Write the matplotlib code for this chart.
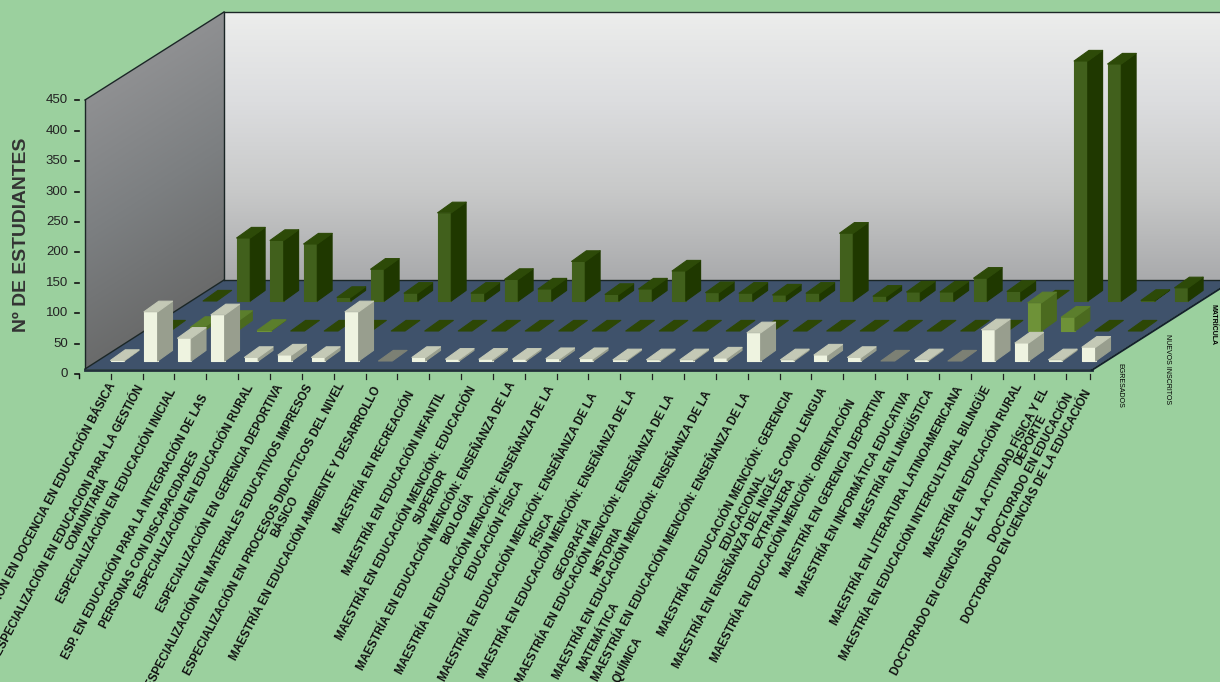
import matplotlib
matplotlib.use("Agg")
import matplotlib.pyplot as plt
import numpy as np
from matplotlib.colors import LinearSegmentedColormap
from matplotlib.patches import Polygon

plt.rcParams["font.family"] = ["Liberation Sans", "DejaVu Sans"]

labels = [
    "ESPECIALIZACIÓN EN DOCENCIA EN EDUCACIÓN BÁSICA",
    "ESPECIALIZACIÓN EN EDUCACION PARA LA GESTIÓN\nCOMUNITARIA",
    "ESPECIALIZACIÓN EN EDUCACIÓN INICIAL",
    "ESP. EN EDUCACIÓN PARA LA INTEGRACIÓN DE LAS\nPERSONAS CON DISCAPACIDADES",
    "ESPECIALIZACIÓN EN EDUCACIÓN RURAL",
    "ESPECIALIZACIÓN EN GERENCIA DEPORTIVA",
    "ESPECIALIZACIÓN EN MATERIALES EDUCATIVOS IMPRESOS",
    "ESPECIALIZACIÓN EN PROCESOS DIDACTICOS DEL NIVEL\nBÁSICO",
    "MAESTRÍA EN EDUCACIÓN AMBIENTE Y DESARROLLO",
    "MAESTRÍA EN RECREACIÓN",
    "MAESTRÍA EN EDUCACIÓN INFANTIL",
    "MAESTRÍA EN EDUCACIÓN MENCIÓN: EDUCACIÓN\nSUPERIOR",
    "MAESTRÍA EN EDUCACIÓN MENCIÓN: ENSEÑANZA DE LA\nBIOLOGÍA",
    "MAESTRÍA EN EDUCACIÓN MENCIÓN: ENSEÑANZA DE LA\nEDUCACIÓN FÍSICA",
    "MAESTRÍA EN EDUCACIÓN MENCIÓN: ENSEÑANZA DE LA\nFÍSICA",
    "MAESTRÍA EN EDUCACIÓN MENCIÓN: ENSEÑANZA DE LA\nGEOGRAFÍA",
    "MAESTRÍA EN EDUCACIÓN MENCIÓN: ENSEÑANZA DE LA\nHISTORIA",
    "MAESTRÍA EN EDUCACIÓN MENCIÓN: ENSEÑANZA DE LA\nMATEMÁTICA",
    "MAESTRÍA EN EDUCACIÓN MENCIÓN: ENSEÑANZA DE LA\nQUÍMICA",
    "MAESTRÍA EN EDUCACIÓN MENCIÓN: GERENCIA\nEDUCACIONAL",
    "MAESTRÍA EN ENSEÑANZA DEL INGLÉS COMO LENGUA\nEXTRANJERA",
    "MAESTRÍA EN EDUCACIÓN MENCIÓN: ORIENTACIÓN",
    "MAESTRÍA EN GERENCIA DEPORTIVA",
    "MAESTRÍA EN INFORMÁTICA EDUCATIVA",
    "MAESTRÍA EN LINGÜÍSTICA",
    "MAESTRÍA EN LITERATURA LATINOAMERICANA",
    "MAESTRÍA EN EDUCACIÓN INTERCULTURAL BILINGÜE",
    "MAESTRÍA EN EDUCACIÓN RURAL",
    "DOCTORADO EN CIENCIAS DE LA ACTIVIDAD FÍSICA Y EL\nDEPORTE",
    "DOCTORADO EN EDUCACIÓN",
    "DOCTORADO EN CIENCIAS DE LA EDUCACIÓN",
]

# where each rotated label ends, in pixels
label_end_x = [108, 136, 168, 200, 246, 275, 305, 337, 373, 407, 438, 468, 508, 547, 590, 629,
               667, 704, 743, 786, 819, 848, 878, 903, 926, 955, 983, 1015, 1041, 1066, 1083]
label_end_y = [381, 383, 387, 393, 383, 383, 382, 381, 385, 389, 390, 384, 380, 384, 391, 388,
               393, 389, 391, 388, 386, 398, 387, 389, 387, 384, 384, 382, 386, 391, 388]
# centres of the second lines, in pixels
second_line_xy = {1: (87.5, 514), 3: (150, 540), 7: (285, 517), 11: (431, 497), 12: (458, 518),
                  13: (495, 531), 14: (542, 530), 15: (573, 549), 16: (607, 552), 17: (599, 637),
                  18: (627, 660), 19: (744, 512), 20: (775, 513), 28: (1031, 440)}

egresados = [1, 82, 38, 77, 6, 10, 6, 82, 0, 6, 3, 3, 3, 4, 4,
             2, 2, 2, 5, 47, 2, 10, 6, 0, 2, 0, 52, 30, 2, 23]
nuevos = [0, 6, 16, 1, 0, 0, 0, 0, 0, 0, 0, 0, 0, 0, 0,
          0, 0, 0, 0, 0, 0, 0, 0, 0, 0, 0, 47, 23, 0, 0]
matricula = [0, 105, 101, 95, 6, 53, 13, 147, 13, 36, 20, 66, 11, 20, 50,
             14, 13, 10, 13, 113, 8, 15, 15, 38, 16, 0, 400, 395, 1, 22]

y_ticks = [0, 50, 100, 150, 200, 250, 300, 350, 400, 450]

# (values, front, side, top, colour of a zero bar), back row first
series = [
    (matricula, "#41601c", "#1f3800", "#2d4a08", "#2d4705"),
    (nuevos, "#6e9238", "#4b6a1f", "#5b7e2c", "#2d4705"),
    (egresados, "#eef3e0", "#989e8e", "#c4c9b6", "#7c8074"),
]
series_names = ["EGRESADOS", "NUEVOS INSCRITOS", "MATRÍCULA"]
name_x = [1120, 1168, 1213]
name_y = [385, 369, 325]

BG = "#9bd09e"
W, H = 1220, 682

fig = plt.figure(figsize=(W / 100, H / 100), dpi=100, facecolor=BG)

# frame, drawn in pixels
frame = fig.add_axes([0, 0, 1, 1])
frame.set_xlim(0, W)
frame.set_ylim(H, 0)
frame.axis("off")

FL, FR, BL, BR = (85, 369), (1092, 369), (224, 280), (1232, 280)
TOP_F, TOP_B, TOP_R = (85, 100), (224, 12), (1232, 12)


def gradient_fill(poly, img, cmap, extent):
    im = frame.imshow(img, cmap=cmap, extent=extent, aspect="auto", vmin=0, vmax=1, zorder=1)
    patch = Polygon(poly, transform=frame.transData, fc="none", ec="none")
    frame.add_patch(patch)
    im.set_clip_path(patch)


wall_cmap = LinearSegmentedColormap.from_list("wall", ["#ecedec", "#dcdddf", "#c8c9c9", "#a9aaac"])
side_cmap = LinearSegmentedColormap.from_list("side", ["#8f9092", "#7c7f81", "#6a6b6b"])
gradient_fill([TOP_B, TOP_R, BR, BL], np.linspace(0, 1, 256).reshape(-1, 1), wall_cmap, (224, 1232, 280, 12))
xx, yy = np.meshgrid(np.linspace(85, 224, 140), np.linspace(12, 369, 358))
shade = (yy - (100 - 0.633 * (xx - 85))) / 269
gradient_fill([TOP_F, TOP_B, BL, FL], shade.clip(0, 1), side_cmap, (85, 224, 369, 12))
frame.set_xlim(0, W)
frame.set_ylim(H, 0)

frame.add_patch(Polygon([FL, FR, BR, BL], fc="#3f526b", ec="none", zorder=2))
edge = "#1b2626"
for a, b in [(TOP_F, TOP_B), (TOP_B, TOP_R), (TOP_B, BL), (TOP_F, FL), (FL, BL), (BL, BR)]:
    frame.plot([a[0], b[0]], [a[1], b[1]], color=edge, lw=1, zorder=3)
frame.plot([FL[0], FR[0]], [370, 370], color="#22303c", lw=2, zorder=3)
frame.plot([FR[0], BR[0]], [370, 281], color="#14202c", lw=1.4, zorder=3)

# value axis, labels and ticks
for v in y_ticks:
    y = 374 - v * 0.608
    frame.plot([75, 79], [y, y], color="#111111", lw=1.2, zorder=3)
    frame.text(68, y, str(v), ha="right", va="center", fontsize=9.5, color="#222222")
frame.plot([79, 79], [374, 378], color="#111111", lw=1, zorder=3)
frame.text(22, 235, "Nº DE ESTUDIANTES", rotation=90, ha="center", va="center",
           fontsize=13.9, fontweight="bold", color="#333333")

# category axis
tick_x = [110.7 + 31.85 * k for k in range(31)] + [1090]
for x in tick_x:
    frame.plot([x, x], [374, 379], color="#222222", lw=0.9, zorder=3)
for i, (lab, x, y) in enumerate(zip(labels, label_end_x, label_end_y)):
    parts = lab.split("\n")
    frame.text(x, y, parts[0], rotation=62, rotation_mode="anchor", ha="right", va="top",
               fontsize=8.3, fontweight="bold", color="#111111", clip_on=True)
    if len(parts) > 1:
        cx, cy = second_line_xy[i]
        frame.text(cx, cy, parts[1], rotation=62, rotation_mode="anchor", ha="center", va="center",
                   fontsize=8.3, fontweight="bold", color="#111111", clip_on=True)
for name, x, y in zip(series_names, name_x, name_y):
    frame.text(x, y, name, rotation=-90, ha="center", va="center", fontsize=5,
               fontweight="bold" if name == "MATRÍCULA" else "normal", color="#000000")

# bars: x is category, y is value, depth is slanted across both
bars = fig.add_axes([0, 0, 1, 1], facecolor="none")
PX_X, PX_Y = 33.5, 0.6
bars.set_xlim(-110.5 / PX_X, (W - 110.5) / PX_X)
bars.set_ylim((361 - H) / PX_Y, 361 / PX_Y)
bars.axis("off")

ROW_DX, ROW_DY = 46.3 / PX_X, 30 / PX_Y
WIDTH = 13.7 / PX_X
DEPTH_DX, DEPTH_DY = 14.8 / PX_X, 10.6 / PX_Y

for row, (values, c_front, c_side, c_top, c_zero) in zip([2, 1, 0], series):
    for i, v in enumerate(values):
        x0 = i + row * ROW_DX
        y0 = row * ROW_DY
        x1 = x0 + WIDTH
        z = row * -10
        if v > 0:
            bars.fill([x0, x1, x1, x0], [y0, y0, y0 + v, y0 + v], color=c_front, lw=0.8, joinstyle="round", zorder=z)
            bars.fill([x1, x1 + DEPTH_DX, x1 + DEPTH_DX, x1],
                      [y0, y0 + DEPTH_DY, y0 + DEPTH_DY + v, y0 + v], color=c_side, lw=0.8, joinstyle="round", zorder=z)
        top = c_top if v > 0 else c_zero
        bars.fill([x0, x1, x1 + DEPTH_DX, x0 + DEPTH_DX],
                  [y0 + v, y0 + v, y0 + DEPTH_DY + v, y0 + DEPTH_DY + v], color=top, lw=0.8, joinstyle="round", zorder=z)

fig.savefig("out.png", dpi=100, facecolor=BG)
